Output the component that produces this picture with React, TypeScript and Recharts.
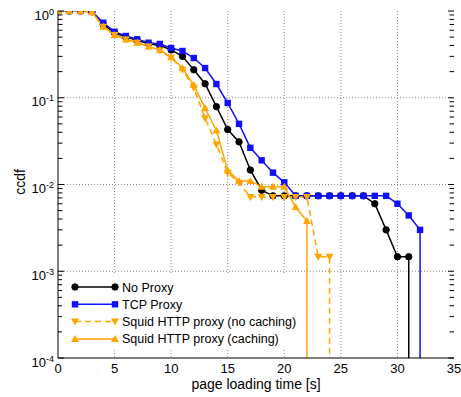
import React from 'react';
import { LineChart, Line, XAxis, YAxis, CartesianGrid, Legend } from 'recharts';

const FONT = '"Liberation Sans", Arial, Helvetica, sans-serif';

// ccdf value at each whole second (t = 0, 1, 2, ...)
const NO_PROXY = [1, 1, 1, 0.98, 0.7, 0.56, 0.5, 0.46, 0.42, 0.4, 0.356, 0.3, 0.21, 0.145, 0.079, 0.043, 0.031, 0.0147, 0.0086, 0.0074, 0.0074, 0.0074, 0.0074, 0.0074, 0.0074, 0.0074, 0.0074, 0.0074, 0.006, 0.003, 0.00147, 0.00147];
const TCP_PROXY = [1, 1, 1, 0.99, 0.733, 0.577, 0.515, 0.472, 0.431, 0.417, 0.374, 0.346, 0.287, 0.22, 0.144, 0.087, 0.05, 0.0265, 0.019, 0.0137, 0.0106, 0.0074, 0.0074, 0.0074, 0.0074, 0.0074, 0.0074, 0.0074, 0.0074, 0.0074, 0.006, 0.0044, 0.003];
const SQUID_NO_CACHE = [1, 1, 1, 0.97, 0.66, 0.53, 0.47, 0.43, 0.39, 0.35, 0.29, 0.21, 0.13, 0.058, 0.029, 0.0137, 0.0105, 0.0072, 0.0072, 0.0072, 0.0072, 0.0072, 0.0072, 0.00147, 0.00147];
const SQUID_CACHE = [1, 1, 1, 0.97, 0.66, 0.53, 0.47, 0.43, 0.39, 0.355, 0.295, 0.22, 0.14, 0.076, 0.042, 0.0145, 0.011, 0.011, 0.0094, 0.0094, 0.0094, 0.0055, 0.0038];
// after the last sample every curve falls to zero (below the axis)
const DROP = 1e-7;

const X_TICKS = [0, 5, 10, 15, 20, 25, 30, 35];
const DECADES = [1e-4, 1e-3, 1e-2, 1e-1, 1];
const DECADE_EXP = ['-4', '-3', '-2', '-1', '0'];
const MINOR = [2, 3, 4, 5, 6, 7, 8, 9];
const Y_TICKS = DECADES.concat(
  ...DECADES.slice(0, 4).map((d) => MINOR.map((m) => m * d))
);

const toPoints = (values: number[]) => {
  const pts = values.map((v, i) => ({ t: i, v }));
  pts.push({ t: values.length - 1, v: DROP });
  return pts;
};

const W = 461;
const H = 397;
const MARGIN = { top: 11, right: 7, bottom: 0, left: 0 };
const Y_AXIS_W = 58;
const X_AXIS_H = 39;
const PLOT_RIGHT = W - MARGIN.right;

const circleDot = (color: string) => (p: any) =>
  <circle key={`c${p.index}`} cx={p.cx} cy={p.cy} r={3.2} fill={color} stroke={color} />;
const squareDot = (color: string) => (p: any) =>
  <rect key={`s${p.index}`} x={p.cx - 3.2} y={p.cy - 3.2} width={6.4} height={6.4} fill={color} />;
const downTri = (color: string) => (p: any) =>
  <polygon key={`d${p.index}`} points={`${p.cx - 4},${p.cy - 3} ${p.cx + 4},${p.cy - 3} ${p.cx},${p.cy + 4}`} fill={color} />;
const upTri = (color: string) => (p: any) =>
  <polygon key={`u${p.index}`} points={`${p.cx - 4},${p.cy + 3} ${p.cx + 4},${p.cy + 3} ${p.cx},${p.cy - 4}`} fill={color} />;

const SERIES = [
  { name: 'No Proxy', values: NO_PROXY, color: '#000000', dash: undefined, dot: circleDot },
  { name: 'TCP Proxy', values: TCP_PROXY, color: '#1010ff', dash: undefined, dot: squareDot },
  { name: 'Squid HTTP proxy (no caching)', values: SQUID_NO_CACHE, color: '#ffa500', dash: '6 4', dot: downTri },
  { name: 'Squid HTTP proxy (caching)', values: SQUID_CACHE, color: '#ffa500', dash: undefined, dot: upTri },
];

const YTick = (props: any) => {
  const { x, y, payload } = props;
  const i = DECADES.indexOf(payload.value);
  const len = i >= 0 ? 6 : 4.5;
  const left = x + 4;
  return (
    <g>
      <line x1={left} x2={left + len} y1={y} y2={y} stroke="#000" />
      <line x1={PLOT_RIGHT} x2={PLOT_RIGHT - len} y1={y} y2={y} stroke="#000" />
      {i >= 0 && (
        <text x={x} y={y + 8.5} textAnchor="end" fontSize={13} fontFamily={FONT} fill="#000">
          10<tspan dy={-5} fontSize={9}>{DECADE_EXP[i]}</tspan>
        </text>
      )}
    </g>
  );
};

const YLabel = () => (
  <text x={25} y={182} transform="rotate(-90 25 182)" textAnchor="middle" fontSize={14} fontFamily={FONT} fill="#000">
    ccdf
  </text>
);

const LegendBox = () => (
  <div style={{ background: '#fff', width: 238, height: 75 }}>
    <svg width={238} height={75}>
      {SERIES.map((s, i) => {
        const y = 12 + i * 17.3;
        const Dot = s.dot(s.color);
        return (
          <g key={s.name}>
            <line x1={13} x2={53} y1={y} y2={y} stroke={s.color} strokeWidth={1.5} strokeDasharray={s.dash} />
            {Dot({ cx: 13, cy: y, index: 0 })}
            {Dot({ cx: 53, cy: y, index: 1 })}
            <text x={60} y={y + 4.5} fontSize={12.5} fontFamily={FONT} fill="#000">{s.name}</text>
          </g>
        );
      })}
    </svg>
  </div>
);

export default function App() {
  return (
    <div style={{ position: 'absolute', left: 0, top: 0, background: '#fff' }}>
      <LineChart width={W} height={H} margin={MARGIN}>
        <CartesianGrid
          stroke="#888"
          strokeDasharray="1 2"
          horizontalValues={[1e-3, 1e-2, 1e-1]}
          verticalValues={[5, 10, 15, 20, 25, 30]}
        />
        <XAxis
          dataKey="t"
          type="number"
          domain={[0, 35]}
          ticks={X_TICKS}
          allowDataOverflow
          height={X_AXIS_H}
          tickSize={0}
          tickMargin={6}
          tickLine={false}
          axisLine={{ stroke: '#000' }}
          tick={{ fill: '#000', fontSize: 13, fontFamily: FONT }}
          label={{ value: 'page loading time [s]', position: 'insideBottom', offset: 8, fill: '#000', fontSize: 14, fontFamily: FONT }}
        />
        <XAxis xAxisId="top" orientation="top" type="number" domain={[0, 35]} height={0} tick={false} tickLine={false} axisLine={{ stroke: '#000' }} />
        <YAxis
          type="number"
          scale="log"
          domain={[1e-4, 1]}
          ticks={Y_TICKS}
          allowDataOverflow
          width={Y_AXIS_W}
          tickSize={0}
          tickMargin={4}
          tickLine={false}
          interval={0}
          axisLine={{ stroke: '#000' }}
          tick={YTick}
          label={YLabel}
        />
        <YAxis yAxisId="right" orientation="right" type="number" domain={[0, 1]} width={0} tick={false} tickLine={false} axisLine={{ stroke: '#000' }} />
        {SERIES.map((s) => (
          <Line
            key={s.name}
            data={toPoints(s.values)}
            dataKey="v"
            name={s.name}
            type="linear"
            stroke={s.color}
            strokeWidth={1.5}
            strokeDasharray={s.dash}
            dot={s.dot(s.color)}
            activeDot={false}
            isAnimationActive={false}
          />
        ))}
        <Legend
          layout="vertical"
          align="center"
          verticalAlign="middle"
          wrapperStyle={{ left: 62, top: 275, width: 238, height: 75 }}
          content={LegendBox}
        />
      </LineChart>
    </div>
  );
}
